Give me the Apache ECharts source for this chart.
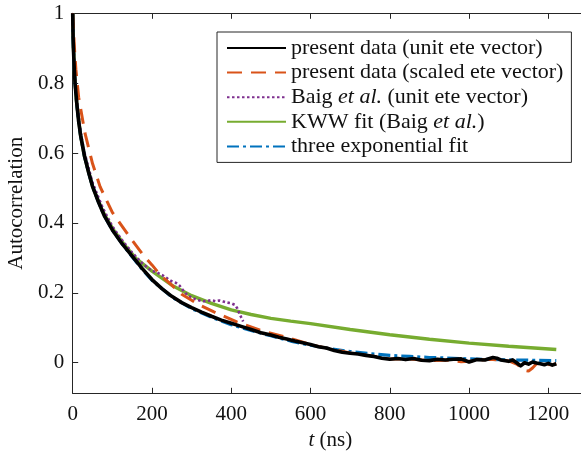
<!DOCTYPE html>
<html><head><meta charset="utf-8">
<script src="https://cdn.jsdelivr.net/npm/echarts@6/dist/echarts.min.js"></script>
<style>html,body{margin:0;padding:0;background:#fff}#c{width:581px;height:452px}</style>
</head><body><div id="c"></div>
<script>
// ---- data ----
var xTicks = [0, 200, 400, 600, 800, 1000, 1200];
var yTicks = [0, 0.2, 0.4, 0.6, 0.8, 1];

var blackT = [0,1,2,4,6,10,15,20,30,40,50,65,80,100,125,150,175,200,225,250,275,300,325,350,375,400,425,450,475,500,520,540,560,580,600,620,640,660,680,700,720,740,760,780,800,820,840,860,880,900,920,940,960,980,1000,1020,1040,1060,1070,1080,1100,1110,1120,1130,1140,1150,1160,1170,1180,1190,1200,1210,1220];
var blackV = [1.0,0.93,0.895,0.84,0.80,0.745,0.69,0.65,0.59,0.545,0.505,0.46,0.42,0.38,0.34,0.305,0.27,0.238,0.212,0.19,0.172,0.158,0.145,0.133,0.122,0.113,0.104,0.095,0.086,0.079,0.073,0.068,0.062,0.057,0.052,0.046,0.042,0.035,0.030,0.027,0.025,0.021,0.018,0.013,0.010,0.012,0.009,0.012,0.007,0.006,0.010,0.008,0.010,0.011,0.002,0.009,0.008,0.015,0.013,0.008,0.004,0.008,0.000,-0.009,0.000,-0.004,0.002,-0.001,-0.003,-0.006,-0.002,-0.007,-0.003];

var orangeT = [0,2,5,8,15,31,50,69,100,149,180,200,220,250,275,320,355,414,481,548,606,650,700,750,800,850,900,950,980,1000,1050,1080,1100,1120,1130,1140,1150,1160,1170,1190,1210,1220];
var orangeV = [1.0,0.95,0.89,0.84,0.76,0.657,0.57,0.504,0.43,0.352,0.305,0.28,0.252,0.222,0.196,0.165,0.146,0.117,0.090,0.070,0.050,0.040,0.028,0.020,0.011,0.011,0.006,0.007,0.003,0.004,0.010,0.008,0.005,-0.004,-0.012,-0.022,-0.024,-0.015,-0.003,-0.004,-0.006,-0.003];

var purpleT = [0,2,5,10,20,30,50,75,100,125,150,175,200,210,220,230,240,250,260,270,280,290,300,310,320,330,340,350,360,370,380,390,400,410,415,420,425,430];
var purpleV = [1.0,0.9,0.83,0.755,0.66,0.60,0.515,0.445,0.39,0.35,0.315,0.285,0.262,0.260,0.254,0.248,0.240,0.233,0.229,0.220,0.205,0.193,0.186,0.182,0.178,0.176,0.177,0.179,0.176,0.178,0.175,0.172,0.170,0.165,0.156,0.142,0.130,0.118];

var greenT = [0,2,5,10,20,30,50,75,100,130,160,200,250,300,350,400,450,500,550,600,700,800,900,1000,1100,1220];
var greenV = [1.0,0.9,0.82,0.745,0.65,0.59,0.505,0.435,0.385,0.338,0.298,0.262,0.222,0.192,0.170,0.151,0.138,0.127,0.119,0.112,0.095,0.080,0.067,0.056,0.047,0.038];

var blueT = [0,1,2,4,6,10,15,20,30,40,50,65,80,100,125,150,175,200,250,300,350,400,450,500,550,600,650,700,750,800,850,900,1000,1100,1220];
var blueV = [1.0,0.93,0.895,0.84,0.80,0.745,0.69,0.65,0.59,0.545,0.505,0.46,0.42,0.38,0.34,0.303,0.268,0.236,0.188,0.155,0.130,0.109,0.092,0.077,0.062,0.050,0.040,0.032,0.026,0.021,0.018,0.015,0.011,0.008,0.006];

var names = [
  'present data (unit ete vector)',
  'present data (scaled ete vector)',
  'Baig et al. (unit ete vector)',
  'KWW fit (Baig et al.)',
  'three exponential fit'
];

function zip(t, v) { return t.map(function (x, i) { return [x, v[i]]; }); }

var FONT = 'Liberation Serif';
var AX = '#262626';

var chart = echarts.init(document.getElementById('c'), null, {renderer: 'canvas'});
chart.setOption({
  animation: false,
  backgroundColor: '#fff',
  grid: {left: 72.7, top: 13.3, bottom: 58.7, right: -7, containLabel: false, outerBoundsMode: 'none'},
  legend: {
    data: names,
    orient: 'vertical',
    left: 217, top: 32,
    padding: [5, 8, 5, 9],
    itemWidth: 59, itemHeight: 14, itemGap: 2.6,
    backgroundColor: '#fff',
    borderColor: AX, borderWidth: 1,
    itemStyle: {color: 'rgba(0,0,0,0)', borderWidth: 0, opacity: 0},
    textStyle: {fontFamily: FONT, fontSize: 22, color: '#111', lineHeight: 22,
      rich: {i: {fontFamily: FONT, fontSize: 22, fontStyle: 'italic', color: '#111', lineHeight: 22}}},
    formatter: function (n) {
      return n.replace('et al.', '{i|et al.}');
    }
  },
  xAxis: [{
    type: 'value', min: 0, max: 1300, interval: 200, position: 'bottom',
    name: '{i|t} (ns)', nameLocation: 'middle', nameGap: 36,
    nameTextStyle: {fontFamily: FONT, fontSize: 21, color: '#111',
      rich: {i: {fontFamily: FONT, fontSize: 21, fontStyle: 'italic', color: '#111'}}},
    axisLine: {show: true, onZero: false, lineStyle: {color: AX, width: 1}},
    axisTick: {show: true, inside: true, length: 5.5, lineStyle: {color: AX}, customValues: xTicks},
    axisLabel: {fontFamily: FONT, fontSize: 21, color: '#111', margin: 11,
      customValues: xTicks, formatter: function (v) { return String(v); }},
    splitLine: {show: false}
  }, {
    type: 'value', min: 0, max: 1300, interval: 200, position: 'top',
    axisLine: {show: true, onZero: false, lineStyle: {color: AX, width: 1}},
    axisTick: {show: true, inside: true, length: 5.5, lineStyle: {color: AX}, customValues: xTicks},
    axisLabel: {show: false},
    splitLine: {show: false}
  }],
  yAxis: [{
    type: 'value', min: -0.0875, max: 1,
    name: 'Autocorrelation', nameLocation: 'middle', nameGap: 41, nameRotate: 90,
    nameTextStyle: {fontFamily: FONT, fontSize: 21, color: '#111'},
    axisLine: {show: true, onZero: false, lineStyle: {color: AX, width: 1}},
    axisTick: {show: true, inside: true, length: 5.5, lineStyle: {color: AX}, customValues: yTicks},
    axisLabel: {fontFamily: FONT, fontSize: 21, color: '#111', margin: 8.5, customValues: yTicks,
      formatter: function (v) { return String(Math.round(v * 10) / 10); }},
    splitLine: {show: false}
  }],
  series: [
    {name: names[3], type: 'line', data: zip(greenT, greenV), showSymbol: false, symbol: 'none', z: 2,
      lineStyle: {color: '#77AC30', width: 3.4}, itemStyle: {color: '#77AC30'}},
    {name: names[4], type: 'line', data: zip(blueT, blueV), showSymbol: false, symbol: 'none', z: 3,
      lineStyle: {color: '#0072BD', width: 3.2, type: [12, 4, 3, 4]}, itemStyle: {color: '#0072BD'}},
    {name: names[2], type: 'line', data: zip(purpleT, purpleV), showSymbol: false, symbol: 'none', z: 4,
      lineStyle: {color: '#7E2F8E', width: 2.6, type: [2.5, 2.5]}, itemStyle: {color: '#7E2F8E'}},
    {name: names[1], type: 'line', data: zip(orangeT, orangeV), showSymbol: false, symbol: 'none', z: 5,
      lineStyle: {color: '#D95319', width: 3, type: [15, 9]}, itemStyle: {color: '#D95319'}},
    {name: names[0], type: 'line', data: zip(blackT, blackV), showSymbol: false, symbol: 'none', z: 6,
      lineStyle: {color: '#000', width: 3.6, join: 'round'}, itemStyle: {color: '#000'}}
  ]
});
</script>
</body></html>
